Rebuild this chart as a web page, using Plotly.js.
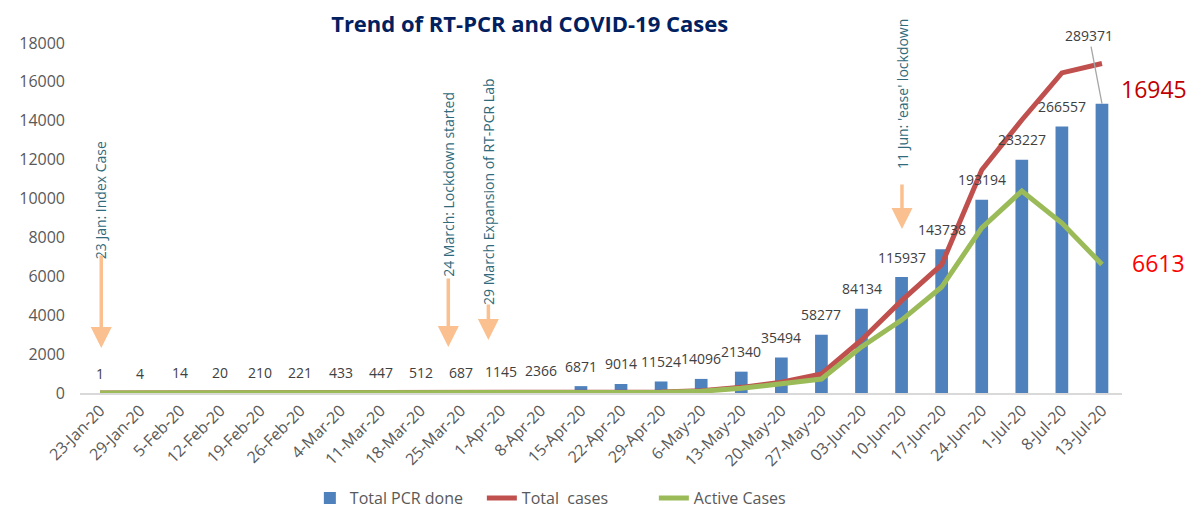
<!DOCTYPE html>
<html>
<head>
<meta charset="utf-8">
<script src="https://cdn.plot.ly/plotly-3.0.1.min.js"></script>
<style>html,body{margin:0;padding:0;background:#fff;}#chart{width:1201px;height:512px;}</style>
</head>
<body>
<div id="chart"></div>
<script>
const dates = ["23-Jan-20","29-Jan-20","5-Feb-20","12-Feb-20","19-Feb-20","26-Feb-20","4-Mar-20","11-Mar-20","18-Mar-20","25-Mar-20","1-Apr-20","8-Apr-20","15-Apr-20","22-Apr-20","29-Apr-20","6-May-20","13-May-20","20-May-20","27-May-20","03-Jun-20","10-Jun-20","17-Jun-20","24-Jun-20","1-Jul-20","8-Jul-20","13-Jul-20"];
const pcrDone = [1,4,14,20,210,221,433,447,512,687,1145,2366,6871,9014,11524,14096,21340,35494,58277,84134,115937,143738,193194,233227,266557,289371];
const totalCases = [1,1,1,1,1,1,1,1,1,3,5,9,16,45,57,120,290,550,980,2730,4750,6600,11470,14040,16460,16945];
const activeCases = [1,1,0,0,0,0,0,0,0,2,4,8,14,40,40,90,240,480,720,2370,3750,5450,8490,10390,8740,6613];

const events = [
  {text:"23 Jan: Index Case", x:0.03, yText:9926, yTip:2314, ay:-94},
  {text:"24 March: Lockdown started", x:8.69, yText:10723, yTip:2366, ay:-70},
  {text:"29 March Expansion of RT-PCR Lab", x:9.69, yText:10363, yTip:2726, ay:-37},
  {text:"11 Jun: 'ease' lockdown", x:20.01, yText:15377, yTip:8434, ay:-46}
];

const FONT = "Open Sans, Liberation Sans, sans-serif";
const traces = [
  {type:"bar", name:"Total PCR done", x:dates, y:pcrDone, yaxis:"y", marker:{color:"#4F81BD"}, hoverinfo:"x+y"},
  {type:"scatter", mode:"lines", name:"Total  cases", x:dates, y:totalCases, yaxis:"y2", line:{color:"#C0504D", width:5}},
  {type:"scatter", mode:"lines", name:"Active Cases", x:dates, y:activeCases, yaxis:"y2", line:{color:"#9BBB59", width:5}}
];

const annotations = [];
pcrDone.forEach((v,i)=>{
  const last = i === pcrDone.length-1;
  annotations.push({
    x:dates[i], y:v, xref:"x", yref:"y", text:String(v),
    showarrow:last, arrowhead:0, arrowwidth:1.3, arrowcolor:"#A6A6A6", standoff:0,
    ax: last ? -13 : 0, ay: last ? -68 : 0,
    yshift: last ? 0 : 20,
    font:{family:FONT, size:14, color:"#404040"}
  });
});
events.forEach(e=>{
  annotations.push({x:e.x, y:e.yText, xref:"x", yref:"y2", text:e.text, textangle:-90, showarrow:false,
    xanchor:"center", yanchor:"middle", font:{family:FONT, size:14, color:"#2F6B7C"}});
  annotations.push({x:e.x, y:e.yTip, xref:"x", yref:"y2", text:"", showarrow:true, ax:0, ay:e.ay,
    arrowhead:2, arrowsize:1.2, arrowwidth:3.5, arrowcolor:"#FAC090", standoff:0});
});
const n = dates.length-1;
annotations.push({x:dates[n], y:totalCases[n], xref:"x", yref:"y2", text:String(totalCases[n]), showarrow:false,
  xshift:52, yshift:-25, font:{family:FONT, size:23, color:"#C00000"}});
annotations.push({x:dates[n], y:activeCases[n], xref:"x", yref:"y2", text:String(activeCases[n]), showarrow:false,
  xshift:57, yshift:1, font:{family:FONT, size:23, color:"#FF0000"}});

const layout = {
  width:1201, height:512,
  margin:{l:80, r:79, t:43, b:119},
  paper_bgcolor:"#fff", plot_bgcolor:"#fff",
  font:{family:FONT, color:"#595959"},
  title:{text:"<b>Trend of RT-PCR and COVID-19 Cases</b>", x:0.441, xanchor:"center", xref:"container", y:0.953, yanchor:"middle", yref:"container",
    font:{family:FONT, size:22, color:"#002060"}},
  bargap:0.683,
  showlegend:true,
  legend:{orientation:"h", xref:"container", x:0.258, xanchor:"left", yref:"container", y:0.027, yanchor:"middle",
    font:{family:FONT, size:16, color:"#595959"}, itemwidth:30, entrywidth:127, tracegroupgap:0},
  xaxis:{type:"category", range:[-0.5, 25.5], automargin:false, showline:true, linecolor:"#D9D9D9", linewidth:2, ticks:"", showgrid:false, tickangle:-45,
    tickfont:{family:FONT, size:16, color:"#595959"}},
  yaxis:{range:[0,350000], visible:false, showgrid:false, zeroline:false, fixedrange:true, automargin:false},
  yaxis2:{overlaying:"y", side:"left", range:[0,18000], dtick:2000, automargin:false, showgrid:false, zeroline:false, showline:false, ticks:"",
    tickformat:"d", ticklabelstandoff:14, tickfont:{family:FONT, size:16, color:"#595959"}},
  annotations:annotations
};
Plotly.newPlot("chart", traces, layout, {displayModeBar:false, staticPlot:true});
</script>
</body>
</html>
